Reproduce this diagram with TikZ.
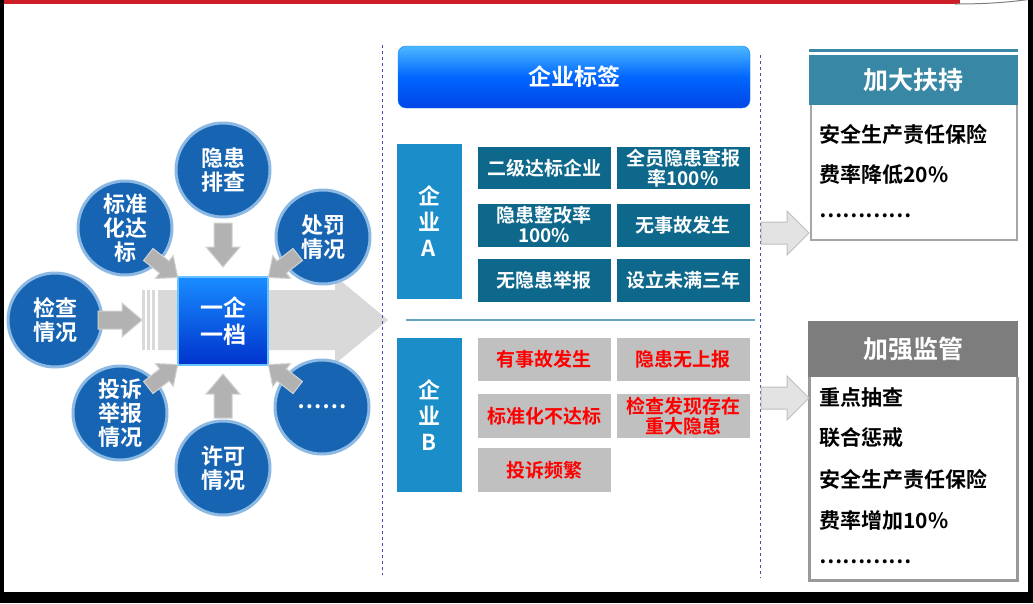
\documentclass[tikz,border=0pt]{standalone}
\usepackage{fontspec}
\setmainfont{Noto Sans CJK SC}[BoldFont={* Bold}]
\usetikzlibrary{shapes.arrows,shadows}
\definecolor{ball}{RGB}{22,100,178}
\definecolor{rim}{RGB}{140,185,228}
\definecolor{tagA}{RGB}{27,141,200}
\definecolor{cellA}{RGB}{14,104,140}
\definecolor{cellB}{RGB}{192,192,192}
\definecolor{hdrA}{RGB}{55,135,165}
\definecolor{hdrB}{RGB}{125,125,125}
\definecolor{redline}{RGB}{205,30,40}
\begin{document}
\begin{tikzpicture}[x=1pt,y=-1pt,
  every node/.style={font=\bfseries},
  circ/.style={circle,fill=ball,draw=rim,line width=3pt,minimum size=94pt,text=white,
    font=\fontsize{22}{24}\selectfont\bfseries,align=center,inner sep=0pt},
  cellA/.style={fill=cellA,text=white,minimum width=133pt,minimum height=42pt,inner sep=0pt,align=center,
    font=\fontsize{19}{20}\selectfont\bfseries},
  cellB/.style={fill=cellB,text=red,minimum width=133pt,minimum height=43pt,inner sep=0pt,align=center,
    font=\fontsize{19}{20}\selectfont\bfseries},
  tag/.style={fill=tagA,text=white,minimum width=65pt,align=center,font=\fontsize{22}{26}\selectfont\bfseries},
  body/.style={font=\fontsize{21}{22}\selectfont\bfseries,anchor=west},
  pics/garrow/.style={code={
    \filldraw[fill=gray!60,draw=gray!35,line width=1pt] (-22,-9) -- (2,-9) -- (2,-17) -- (22,0) -- (2,17) -- (2,9) -- (-22,9) -- cycle;}},
  pics/rarrow/.style={code={
    \filldraw[fill=gray!22,draw=gray!50,line width=1pt] (-24,-11) -- (2,-11) -- (2,-22) -- (24,0) -- (2,22) -- (2,11) -- (-24,11) -- cycle;}}]
\useasboundingbox (0,0) rectangle (1033,603);
\fill[white] (0,0) rectangle (1033,603);
% top line
\fill[redline] (0,0) rectangle (960,4);
\draw[gray,line width=1pt] (955,4) .. controls (990,4) and (1010,2) .. (1033,-1);
% frame strips
\fill[black] (0,0) rectangle (4,603);
\fill[black] (0,592) rectangle (1033,603);
\fill[black] (1028,0) rectangle (1033,603);
% big arrow
\fill[gray!30] (158,290) -- (335,290) -- (335,276) -- (388,320) -- (335,364) -- (335,350) -- (158,350) -- cycle;
\foreach \x in {142,147,152} \fill[gray!30] (\x,290) rectangle (\x+2.5,350);
% center
\node[draw=blue!40!cyan!60!white,line width=2pt,top color=blue!50!cyan!90!white,bottom color=blue!75!cyan!80!black,minimum width=90pt,minimum height=88pt,text=white,
  font=\fontsize{23}{27}\selectfont\bfseries,align=center] (c) at (223,321) {一企\\一档};
% circles
\node[circ] (n1) at (223,170) {隐患\\排查};
\node[circ] (n2) at (125,228) {标准\\化达\\标};
\node[circ] (n3) at (323,237) {处罚\\情况};
\node[circ] (n4) at (55,320) {检查\\情况};
\node[circ] (n5) at (120,413) {投诉\\举报\\情况};
\node[circ] (n6) at (223,468) {许可\\情况};
\node[circ] (n7) at (322,407) {……};
% small arrows
\pic[rotate=-90] at (223,245) {garrow};
\pic[rotate=90] at (223,396) {garrow};
\pic at (120,320) {garrow};
\pic[rotate=-38,scale=0.85] at (163,266) {garrow};
\pic[rotate=-142,scale=0.85] at (283,266) {garrow};
\pic[rotate=38,scale=0.85] at (163,376) {garrow};
\pic[rotate=142,scale=0.85] at (283,376) {garrow};
% dashed lines
\draw[dashed,gray!60!blue,line width=0.8pt] (382,45) -- (382,575);
\draw[dashed,gray!60!blue,line width=0.8pt] (760,55) -- (760,578);
% header
\node[rounded corners=8pt,top color=blue!40!cyan!70!white,bottom color=blue!70!cyan!90!black,middle color=blue!60!cyan,draw=blue!50!cyan,
  minimum width=352pt,minimum height=62pt,text=white,font=\fontsize{23}{24}\selectfont\bfseries] (h) at (574,77) {企业标签};
% enterprise A
\node[tag,minimum height=155pt] (tA) at (429,221) {企\\业\\A};
\node[cellA] (a11) at (544,168) {二级达标企业};
\node[cellA] (a12) at (683,168) {全员隐患查报\\率100\%};
\node[cellA,minimum height=43pt] (a21) at (544,225) {隐患整改率\\100\%};
\node[cellA,minimum height=43pt] (a22) at (683,225) {无事故发生};
\node[cellA,minimum height=43pt] (a31) at (544,280) {无隐患举报};
\node[cellA,minimum height=43pt] (a32) at (683,280) {设立未满三年};
\draw[cyan!50!gray,line width=1.5pt] (406,320) -- (755,320);
% enterprise B
\node[tag,minimum height=154pt] (tB) at (429,415) {企\\业\\B};
\node[cellB] (b11) at (544,359) {有事故发生};
\node[cellB] (b12) at (683,359) {隐患无上报};
\node[cellB,minimum height=44pt] (b21) at (544,416) {标准化不达标};
\node[cellB,minimum height=44pt] (b22) at (683,416) {检查发现存在\\重大隐患};
\node[cellB,minimum height=44pt] (b31) at (544,470) {投诉频繁};
% right box 1
\draw[hdrA,line width=3pt] (809,50) -- (1018,50);
\node[fill=hdrA,minimum width=209pt,minimum height=50pt,text=white,font=\fontsize{25}{26}\selectfont\bfseries] (r1) at (913.5,80) {加大扶持};
\draw[gray!70,line width=2pt] (811,105) -- (811,240) -- (1017,240) -- (1017,105);
\node[body] (t11) at (816,135) {安全生产责任保险};
\node[body] (t12) at (816,175) {费率降低20\%};
\node[body] (t13) at (816,216) {…………};
\pic at (785,233) {rarrow};
% right box 2
\node[fill=hdrB,minimum width=210pt,minimum height=56pt,text=white,font=\fontsize{25}{26}\selectfont\bfseries] (r2) at (913,349) {加强监管};
\draw[gray!80,line width=3pt] (809,377) -- (809,580) -- (1017,580) -- (1017,377);
\node[body] (t21) at (816,398) {重点抽查};
\node[body] (t22) at (816,438) {联合惩戒};
\node[body] (t23) at (816,480) {安全生产责任保险};
\node[body] (t24) at (816,520) {费率增加10\%};
\node[body] (t25) at (816,562) {…………};
\pic at (785,398) {rarrow};
\end{tikzpicture}
\end{document}
